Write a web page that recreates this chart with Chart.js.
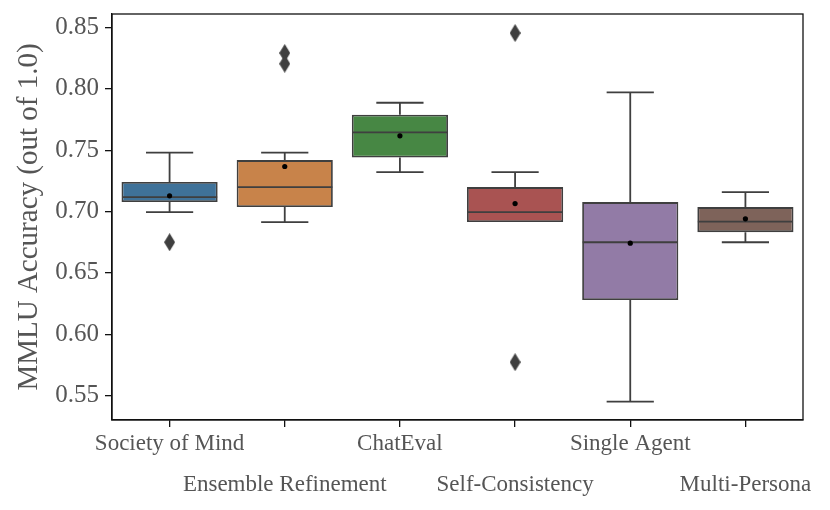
<!DOCTYPE html>
<html>
<head>
<meta charset="utf-8">
<script src="https://cdn.jsdelivr.net/npm/chart.js@4.4.1/dist/chart.umd.min.js"></script>
<style>
html,body{margin:0;padding:0;background:#fff;}
#wrap{width:830px;height:510px;position:relative;}
</style>
</head>
<body>
<div id="wrap"><canvas id="c" width="830" height="510"></canvas></div>
<script>
// ---- data ----
const categories = ['Society of Mind','Ensemble Refinement','ChatEval','Self-Consistency','Single Agent','Multi-Persona'];
const q1 = [0.7077, 0.7036, 0.7440, 0.6914, 0.6280, 0.6832];
const q3 = [0.7240, 0.7419, 0.7788, 0.7199, 0.7077, 0.7036];
const medians = [0.7117, 0.7199, 0.7644, 0.6995, 0.6750, 0.6918];
const whiskerLow = [0.6995, 0.6914, 0.7321, 0.6914, 0.5451, 0.6750];
const whiskerHigh = [0.7480, 0.7480, 0.7886, 0.7321, 0.7970, 0.7158];
const means = [0.7128, 0.7367, 0.7617, 0.7065, 0.6742, 0.6941];
const outliers = [[0.6750], [0.8291, 0.8204], [], [0.8454, 0.5773], [], []];
const yTicks = [0.55, 0.60, 0.65, 0.70, 0.75, 0.80, 0.85];
const boxColors = ['#3f7299', '#c8834a', '#478744', '#a95352', '#927ba6', '#7e635a'];

const LINE = '#3f3f3f';
const TEXT = '#555555';
const FONT = '"Liberation Serif", "Times New Roman", serif';

// thin diamond marker
function makeDiamond(w, h, color) {
  const cv = document.createElement('canvas');
  cv.width = w; cv.height = h;
  const g = cv.getContext('2d');
  g.fillStyle = color;
  g.beginPath();
  g.moveTo(w / 2, 0); g.lineTo(w, h / 2); g.lineTo(w / 2, h); g.lineTo(0, h / 2); g.closePath();
  g.fill();
  return cv;
}
const diamond = makeDiamond(11, 18, LINE);

const outlierPoints = [];
outliers.forEach((arr, i) => arr.forEach(v => outlierPoints.push({x: categories[i], y: v})));
const meanPoints = means.map((v, i) => ({x: categories[i], y: v}));

const boxPlugin = {
  id: 'boxParts',
  afterDatasetDraw(chart, args) {
    if (args.index !== 0) return;
    const ctx = chart.ctx, xs = chart.scales.x, ys = chart.scales.y;
    const step = xs.getPixelForValue(1) - xs.getPixelForValue(0);
    const meta = chart.getDatasetMeta(0);
    ctx.save();
    ctx.strokeStyle = LINE;
    ctx.lineWidth = 1.8;
    ctx.lineCap = 'butt';
    for (let i = 0; i < categories.length; i++) {
      const cx = xs.getPixelForValue(i);
      const bar = meta.data[i];
      const half = bar.width / 2 - 0.5;
      const cap = step * 0.205;
      const pLo = ys.getPixelForValue(whiskerLow[i]);
      const pHi = ys.getPixelForValue(whiskerHigh[i]);
      const pQ1 = ys.getPixelForValue(q1[i]);
      const pQ3 = ys.getPixelForValue(q3[i]);
      const pMed = ys.getPixelForValue(medians[i]);
      ctx.beginPath();
      if (pHi < pQ3 - 0.5) {
        ctx.moveTo(cx, pQ3); ctx.lineTo(cx, pHi);
        ctx.moveTo(cx - cap, pHi); ctx.lineTo(cx + cap, pHi);
      }
      if (pLo > pQ1 + 0.5) {
        ctx.moveTo(cx, pQ1); ctx.lineTo(cx, pLo);
        ctx.moveTo(cx - cap, pLo); ctx.lineTo(cx + cap, pLo);
      }
      ctx.moveTo(cx - half, pMed); ctx.lineTo(cx + half, pMed);
      ctx.stroke();
    }
    ctx.restore();
  },
  afterDraw(chart) {
    const a = chart.chartArea, ctx = chart.ctx;
    ctx.save();
    ctx.strokeStyle = '#111';
    ctx.lineWidth = 1.3;
    ctx.strokeRect(a.left, a.top, a.right - a.left, a.bottom - a.top);
    ctx.restore();
  }
};

new Chart(document.getElementById('c'), {
  type: 'bar',
  data: {
    labels: categories,
    datasets: [
      {
        type: 'bar',
        order: 3,
        data: categories.map((c, i) => [q1[i], q3[i]]),
        backgroundColor: boxColors,
        borderColor: LINE,
        borderWidth: 1.8,
        borderSkipped: false,
        barPercentage: 0.835,
        categoryPercentage: 1.0
      },
      {
        type: 'line',
        order: 2,
        data: outlierPoints,
        showLine: false,
        pointStyle: diamond,
        pointRadius: 6,
        pointHoverRadius: 6
      },
      {
        type: 'line',
        order: 1,
        data: meanPoints,
        showLine: false,
        pointStyle: 'circle',
        pointRadius: 2.6,
        pointBackgroundColor: '#000',
        pointBorderColor: '#000',
        pointBorderWidth: 0
      }
    ]
  },
  options: {
    responsive: false,
    animation: false,
    devicePixelRatio: 1,
    layout: {padding: {left: 0, right: 27, top: 14, bottom: 0}},
    plugins: {legend: {display: false}, tooltip: {enabled: false}},
    scales: {
      x: {
        type: 'category',
        offset: true,
        grid: {display: true, drawOnChartArea: false, tickLength: 7, color: '#111', lineWidth: 1.3, offset: false},
        border: {display: true, color: '#111', width: 1.3},
        ticks: {
          color: TEXT,
          padding: -4,
          maxRotation: 0,
          minRotation: 0,
          autoSkip: false,
          font: {family: FONT, size: 23, lineHeight: '41px'},
          callback(v, i) { const c = categories[i]; return i % 2 ? ['', c] : [c]; }
        },
        afterFit(s) { s.height = 90; s.paddingLeft = 0; s.paddingRight = 0; }
      },
      y: {
        min: 0.5302,
        max: 0.8609,
        afterBuildTicks(s) { s.ticks = yTicks.map(v => ({value: v})); },
        grid: {display: true, drawOnChartArea: false, tickLength: 7, color: '#111', lineWidth: 1.3},
        border: {display: true, color: '#111', width: 1.3},
        ticks: {
          color: TEXT,
          padding: 6,
          font: {family: FONT, size: 25},
          callback: v => v.toFixed(2)
        },
        title: {
          display: true,
          text: 'MMLU Accuracy (out of 1.0)',
          color: TEXT,
          font: {family: FONT, size: 29, lineHeight: 1.2},
          padding: {top: 12, bottom: 0}
        },
        afterFit(s) { s.width = 112; s.paddingTop = 0; s.paddingBottom = 0; }
      }
    }
  },
  plugins: [boxPlugin]
});
</script>
</body>
</html>
